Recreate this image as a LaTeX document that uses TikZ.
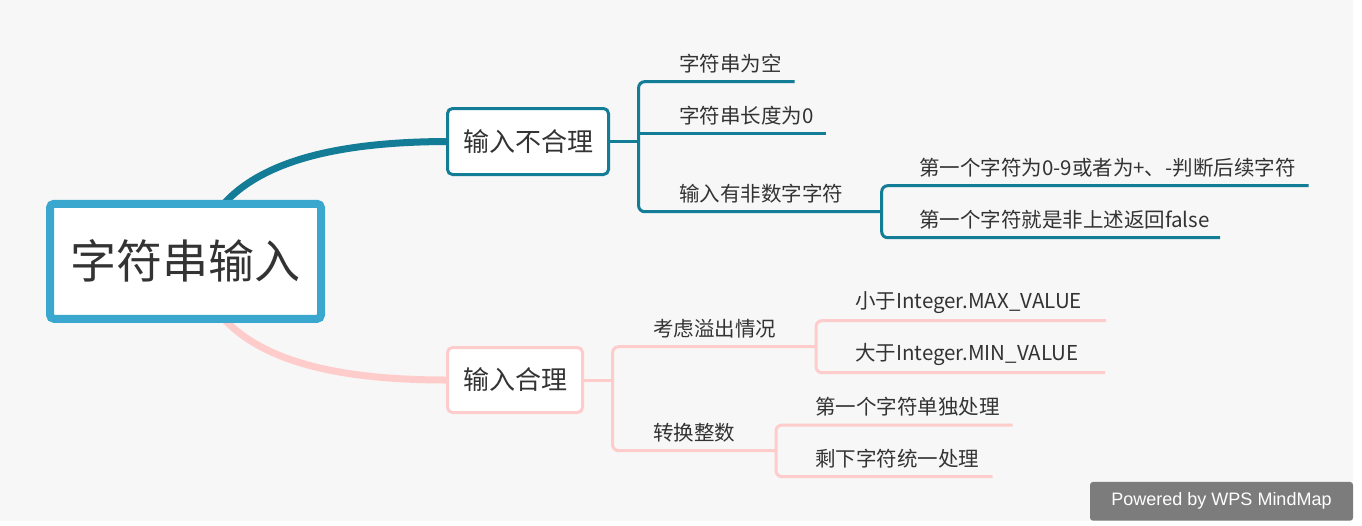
\documentclass[tikz,border=0pt]{standalone}
\usepackage{fontspec}
\setmainfont{Noto Sans CJK SC}
\newfontfamily\wmfont{Liberation Sans}
\usetikzlibrary{backgrounds}
\definecolor{bg}{RGB}{247,247,247}
\definecolor{teal1}{RGB}{19,124,150}
\definecolor{pink1}{RGB}{255,204,204}
\definecolor{rootc}{RGB}{58,168,206}
\definecolor{txt}{RGB}{51,51,51}
\definecolor{wmgray}{RGB}{124,124,124}
\begin{document}
\begin{tikzpicture}[x=1pt,y=-1pt,
  rootbox/.style={draw=rootc, line width=8pt, fill=white, rounded corners=4pt, minimum width=271pt, minimum height=115pt, inner sep=0pt, text=txt, font=\fontsize{46}{55}\selectfont},
  mainbox/.style={fill=white, line width=3pt, rounded corners=5pt, inner sep=0pt, text=txt, font=\fontsize{26}{31}\selectfont},
  leaf/.style={anchor=west, inner sep=0pt, text=txt, font=\fontsize{20.5}{24}\selectfont},
  tealline/.style={draw=teal1, line width=3pt, rounded corners=6pt},
  pinkline/.style={draw=pink1, line width=3pt, rounded corners=6pt},
  wmbox/.style={fill=wmgray, rounded corners=3pt, inner sep=0pt, text=white, font=\wmfont\fontsize{18}{22}\selectfont}
]
\useasboundingbox (0,0) rectangle (1362,525);

% main nodes
\node[rootbox] (root) at (185.5,261.3) {字符串输入};
\node[mainbox, draw=teal1, minimum width=161pt, minimum height=66pt] (b1) at (528,141.5) {输入不合理};
\node[mainbox, draw=pink1, minimum width=135pt, minimum height=65pt] (b2) at (515,380) {输入合理};

% leaves
\node[leaf] (a1) at (679,64) {字符串为空};
\node[leaf] (a2) at (679,116) {字符串长度为0};
\node[leaf] (a3) at (679,194) {输入有非数字字符};
\node[leaf] (a31) at (919,167.7) {第一个字符为0-9或者为+、-判断后续字符};
\node[leaf] (a32) at (919,220) {第一个字符就是非上述返回false};
\node[leaf] (p1) at (653,329) {考虑溢出情况};
\node[leaf] (p2) at (653,432.7) {转换整数};
\node[leaf] (p11) at (855,302.7) {小于Integer.MAX\_VALUE};
\node[leaf] (p12) at (855,354) {大于Integer.MIN\_VALUE};
\node[leaf] (p21) at (815,407) {第一个字符单独处理};
\node[leaf] (p22) at (815,459) {剩下字符统一处理};

% watermark
\node[wmbox, minimum width=263pt, minimum height=38.7pt] (wm) at (1221.5,501.3) {Powered by WPS MindMap};

% junction coordinates
\coordinate (j1) at (638.6,141.5);
\coordinate (u1) at (794.6,81.7);
\coordinate (u2) at (826,133);
\coordinate (j3) at (881.7,211.7);
\coordinate (u31) at (1308.6,185.7);
\coordinate (u32) at (1220,237.7);
\coordinate (j2) at (612.6,380);
\coordinate (k1) at (816,346.7);
\coordinate (k2) at (776,450.7);
\coordinate (u11) at (1106,320.7);
\coordinate (u12) at (1105,372.7);
\coordinate (u21) at (1012.7,425);
\coordinate (u22) at (992.6,476.7);

% teal branch lines
\draw[tealline] (b1.east) -- (j1);
\draw[tealline] (u1) -- (j1 |- u1) -- (j1 |- j3) -- (j3);
\draw[tealline] (j1 |- u2) -- (u2);
\draw[tealline] (u31) -- (j3 |- u31) -- (j3 |- u32) -- (u32);

% pink branch lines
\draw[pinkline] (b2.east) -- (j2);
\draw[pinkline] (k1) -- (j2 |- k1) -- (j2 |- k2) -- (k2);
\draw[pinkline] (u11) -- (k1 |- u11) -- (k1 |- u12) -- (u12);
\draw[pinkline] (u21) -- (k2 |- u21) -- (k2 |- u22) -- (u22);

\begin{pgfonlayer}{background}
  \fill[white] (0,0) rectangle (1362,525);
  \fill[bg] (0,0) rectangle (1353,521);
  \draw[teal1, line width=7pt] ([xshift=36.5pt,yshift=-6pt]root.north) .. controls (262,160) and (340,142) .. (b1.west);
  \draw[pink1, line width=7pt] ([xshift=36.5pt,yshift=6pt]root.south) .. controls (262,362) and (340,380) .. (b2.west);
\end{pgfonlayer}
\end{tikzpicture}
\end{document}
